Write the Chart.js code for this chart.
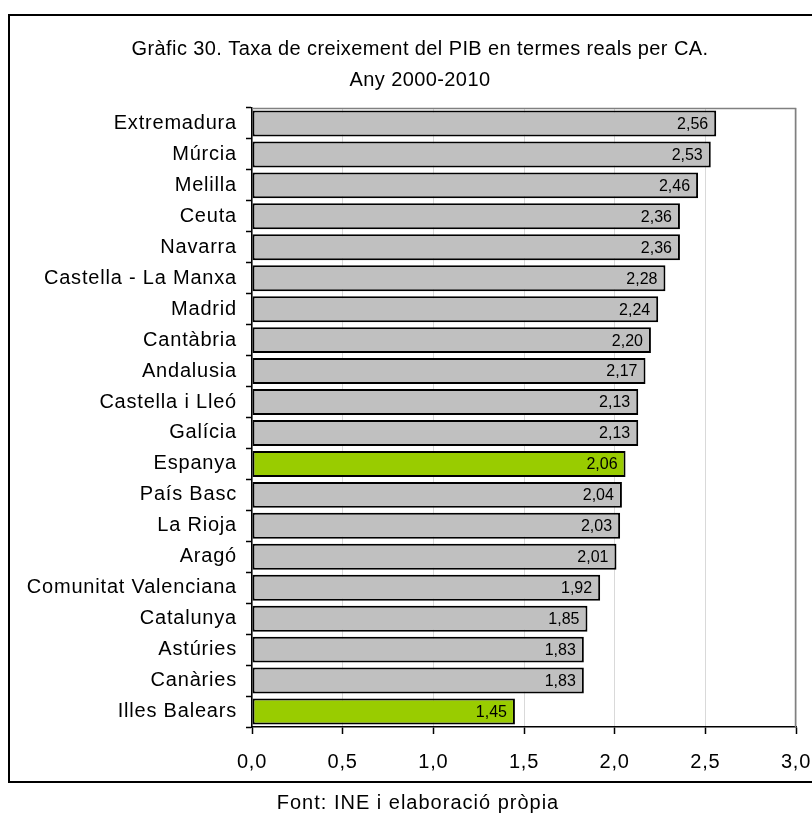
<!DOCTYPE html>
<html>
<head>
<meta charset="utf-8">
<script src="https://cdn.jsdelivr.net/npm/chart.js@4"></script>
<style>
html,body{margin:0;padding:0;background:#fff;}
#wrap{width:812px;height:814px;position:relative;}
</style>
</head>
<body>
<div id="wrap"><canvas id="c" width="812" height="814"></canvas></div>
<script>
const categories = ["Extremadura","Múrcia","Melilla","Ceuta","Navarra","Castella - La Manxa","Madrid","Cantàbria","Andalusia","Castella i Lleó","Galícia","Espanya","País Basc","La Rioja","Aragó","Comunitat Valenciana","Catalunya","Astúries","Canàries","Illes Balears"];
const values = [2.56,2.53,2.46,2.36,2.36,2.28,2.24,2.20,2.17,2.13,2.13,2.06,2.04,2.03,2.01,1.92,1.85,1.83,1.83,1.45];
const highlighted = ["Espanya","Illes Balears"];
const titleLines = ["Gràfic 30. Taxa de creixement del PIB en termes reals per CA.","Any 2000-2010"];
const sourceText = "Font: INE i elaboració pròpia";

const FONT = "'Liberation Sans', Arial, sans-serif";
const SPACING = '0.8px';
const fmt = (v, d) => v.toFixed(d).replace('.', ',');

const decor = {
  id: 'decor',
  beforeLayout(chart) { chart.ctx.letterSpacing = SPACING; },
  beforeDraw(chart) {
    const ctx = chart.ctx;
    ctx.letterSpacing = SPACING;
    ctx.save();
    ctx.fillStyle = '#fff';
    ctx.fillRect(0, 0, chart.width, chart.height);
    ctx.restore();
  },
  afterDraw(chart) {
    const ctx = chart.ctx;
    const a = chart.chartArea;
    ctx.save();
    // plot area border (top/right grey)
    ctx.strokeStyle = '#808080';
    ctx.lineWidth = 1.5;
    ctx.beginPath();
    ctx.moveTo(a.left, a.top + 0.5);
    ctx.lineTo(a.right - 0.5, a.top + 0.5);
    ctx.lineTo(a.right - 0.5, a.bottom);
    ctx.stroke();
    // outer border
    ctx.strokeStyle = '#000';
    ctx.lineWidth = 2;
    ctx.strokeRect(9, 15, 820, 767);
    // title
    ctx.fillStyle = '#000';
    ctx.letterSpacing = '0.4px';
    ctx.font = '20px ' + FONT;
    ctx.textAlign = 'center';
    ctx.textBaseline = 'middle';
    ctx.fillText(titleLines[0], 420, 49);
    ctx.fillText(titleLines[1], 420, 80);
    // source
    ctx.letterSpacing = '1px';
    ctx.font = '20px ' + FONT;
    ctx.fillText(sourceText, 418, 803);
    // data labels
    const meta = chart.getDatasetMeta(0);
    ctx.letterSpacing = '0px';
    ctx.font = '16px ' + FONT;
    ctx.textAlign = 'right';
    ctx.textBaseline = 'middle';
    meta.data.forEach((bar, i) => {
      ctx.fillText(fmt(values[i], 2), bar.x - 8, bar.y + 1);
    });
    ctx.restore();
  }
};

new Chart(document.getElementById('c'), {
  type: 'bar',
  data: {
    labels: categories,
    datasets: [{
      data: values,
      backgroundColor: categories.map(c => highlighted.includes(c) ? '#99CC00' : '#C0C0C0'),
      borderColor: '#000',
      borderWidth: 2,
      borderSkipped: false,
      barPercentage: 0.84,
      categoryPercentage: 1.0
    }]
  },
  options: {
    indexAxis: 'y',
    responsive: false,
    animation: false,
    devicePixelRatio: 1,
    layout: { padding: { left: 10, right: 16, top: 108, bottom: 37 } },
    plugins: { legend: { display: false }, title: { display: false }, tooltip: { enabled: false } },
    scales: {
      x: {
        min: 0, max: 3,
        afterFit(s) { s.height = 50; s.paddingLeft = 0; s.paddingRight = 0; },
        ticks: { stepSize: 0.5, color: '#000', font: { family: FONT, size: 20 }, padding: 16,
                 callback: v => fmt(v, 1) },
        grid: { color: '#d9d9d9', tickColor: '#000', tickLength: 7, tickWidth: 1.5, lineWidth: 1 },
        border: { color: '#000', width: 1.5 }
      },
      y: {
        afterFit(s) { s.width = 242; s.paddingTop = 0; s.paddingBottom = 0; },
        ticks: { color: '#000', font: { family: FONT, size: 20 }, padding: 9 },
        grid: { drawOnChartArea: false, offset: true, tickColor: '#000', tickLength: 6, tickWidth: 1.5 },
        border: { color: '#000', width: 1.5 }
      }
    }
  },
  plugins: [decor]
});
</script>
</body>
</html>
